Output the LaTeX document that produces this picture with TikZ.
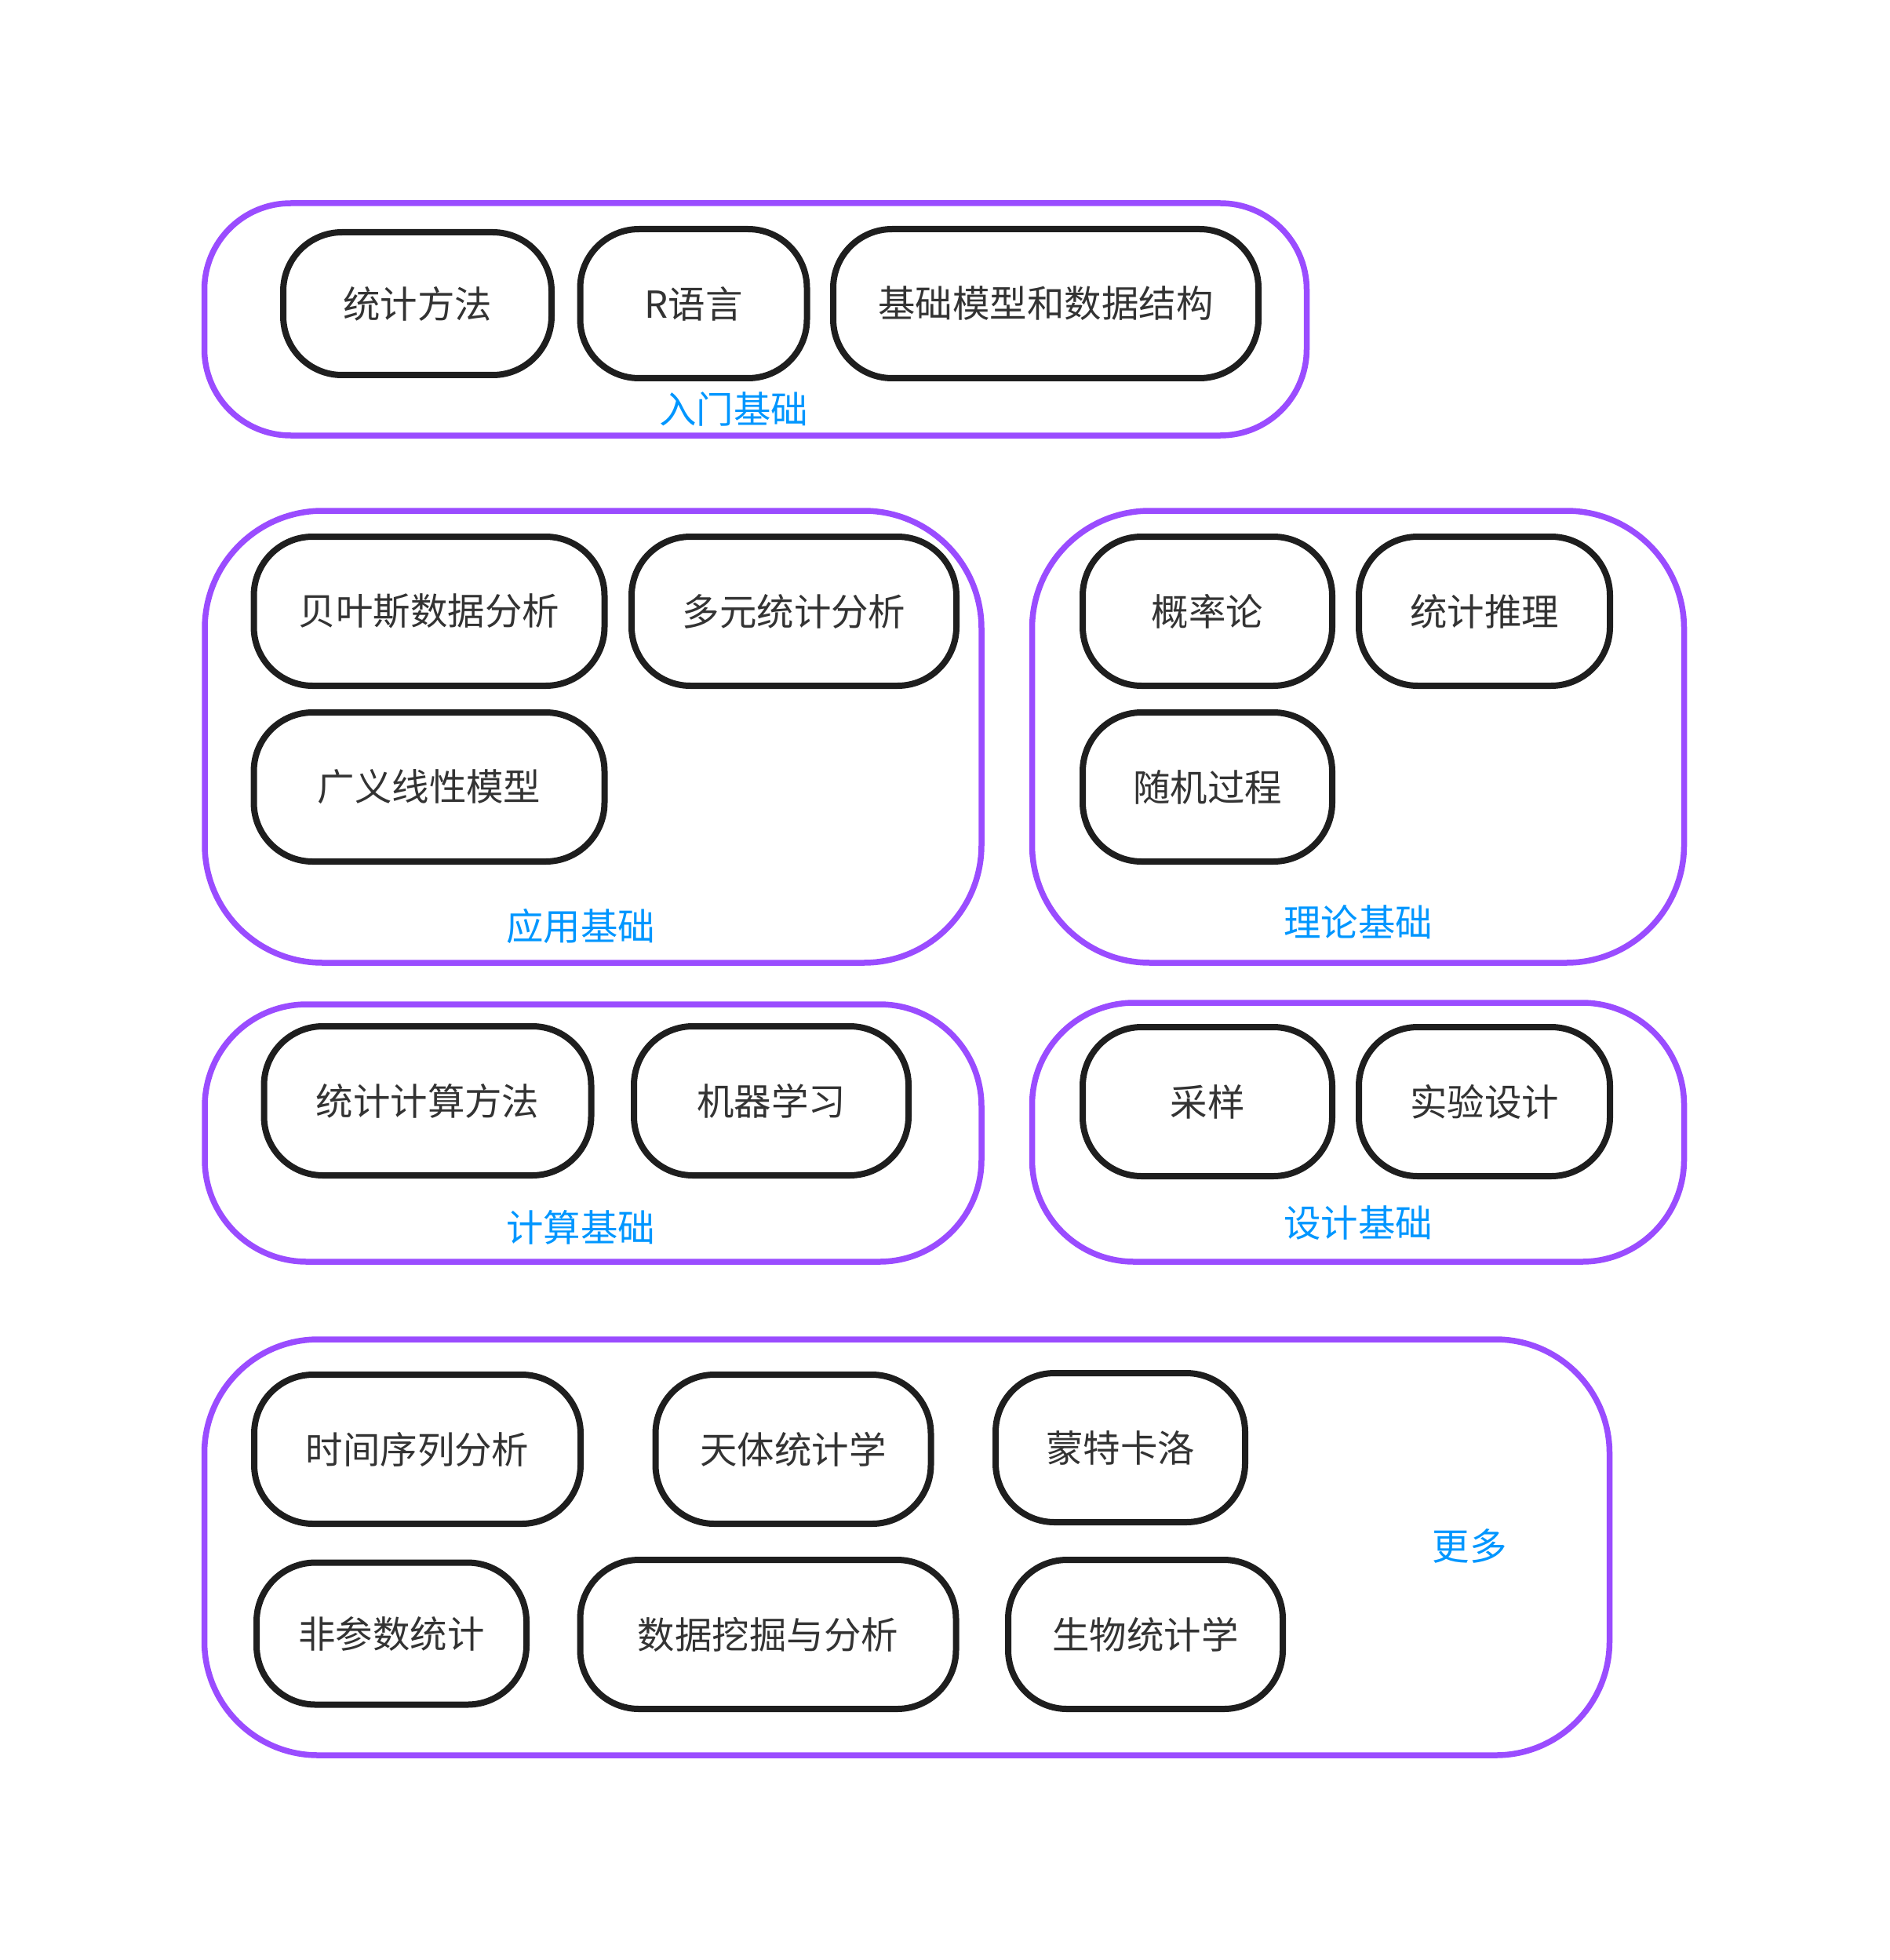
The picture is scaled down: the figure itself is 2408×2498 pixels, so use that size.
\documentclass[tikz,border=0pt]{standalone}
\usepackage{fontspec}
\setmainfont{Noto Sans CJK SC}
\usepackage{xcolor}
\usepackage{tikz}
\usetikzlibrary{positioning}
\definecolor{groupviolet}{HTML}{9A4CFF}
\definecolor{labelblue}{HTML}{0096FF}
\definecolor{boxdark}{HTML}{1E1E1E}
\definecolor{textdark}{HTML}{333333}

\begin{document}
\begin{tikzpicture}[
  x=0.1mm, y=-0.1mm,
  font=\fontsize{13.5pt}{16pt}\selectfont,
  group/.style={draw=groupviolet, line width=0.75mm, rounded corners=13mm,
                inner sep=0pt},
  topic/.style={draw=boxdark, line width=0.8mm, rounded corners=7.5mm,
                text=textdark, inner sep=0pt, minimum height=19mm},
  grouplabel/.style={text=labelblue, inner sep=0pt}
]
\useasboundingbox (0,0) rectangle (2408,2498);

% Containers
\node[group, rounded corners=11mm, minimum width=140.5mm, minimum height=29.6mm] (intro) at (963,407) {};
\node[group, rounded corners=15mm, minimum width=99mm, minimum height=57.6mm] (applied) at (756,939) {};
\node[group, rounded corners=15mm, minimum width=83.1mm, minimum height=57.6mm] (theory) at (1731,939) {};
\node[group, minimum width=99mm, minimum height=32.8mm] (compute) at (756,1444) {};
\node[group, minimum width=83.1mm, minimum height=33mm] (design) at (1731,1443) {};
\node[group, rounded corners=14.5mm, minimum width=179.1mm, minimum height=53mm] (more) at (1156,1972) {};

% Group labels
\node[grouplabel] (introlbl) at (935,521) {入门基础};
\node[grouplabel] (appliedlbl) at (740,1180) {应用基础};
\node[grouplabel] (theorylbl) at (1731,1175) {理论基础};
\node[grouplabel] (computelbl) at (740,1564) {计算基础};
\node[grouplabel] (designlbl) at (1731,1559) {设计基础};
\node[grouplabel] (morelbl) at (1873,1970) {更多};

% Intro row
\node[topic, minimum width=34.2mm, minimum height=18.2mm] (method) at (532,387) {统计方法};
\node[topic, minimum width=28.9mm] (rlang) at (884,387) {R语言};
\node[topic, minimum width=54.2mm] (basics) at (1333,387) {基础模型和数据结构};

% Applied
\node[topic, minimum width=44.7mm] (bayes) at (547,779) {贝叶斯数据分析};
\node[topic, minimum width=41.4mm] (multi) at (1012,779) {多元统计分析};
\node[topic, minimum width=44.7mm] (glm) at (547,1003) {广义线性模型};

% Theory
\node[topic, minimum width=31.8mm] (prob) at (1539,779) {概率论};
\node[topic, minimum width=32mm] (infer) at (1892,779) {统计推理};
\node[topic, minimum width=31.8mm] (stoch) at (1539,1003) {随机过程};

% Computing
\node[topic, minimum width=41.7mm] (statcomp) at (545,1403) {统计计算方法};
\node[topic, minimum width=35mm] (ml) at (983,1403) {机器学习};

% Design
\node[topic, minimum width=31.8mm] (sampling) at (1539,1404) {采样};
\node[topic, minimum width=32mm] (expdesign) at (1892,1404) {实验设计};

% More
\node[topic, minimum width=41.6mm] (timeseries) at (532,1847) {时间序列分析};
\node[topic, minimum width=35.1mm] (astro) at (1011,1847) {天体统计学};
\node[topic, minimum width=31.8mm] (montecarlo) at (1428,1845) {蒙特卡洛};
\node[topic, minimum width=34.4mm, minimum height=18.1mm] (nonpar) at (499,2082) {非参数统计};
\node[topic, minimum width=47.9mm] (mining) at (979,2083) {数据挖掘与分析};
\node[topic, minimum width=35mm] (biostat) at (1460,2083) {生物统计学};

\end{tikzpicture}
\end{document}
